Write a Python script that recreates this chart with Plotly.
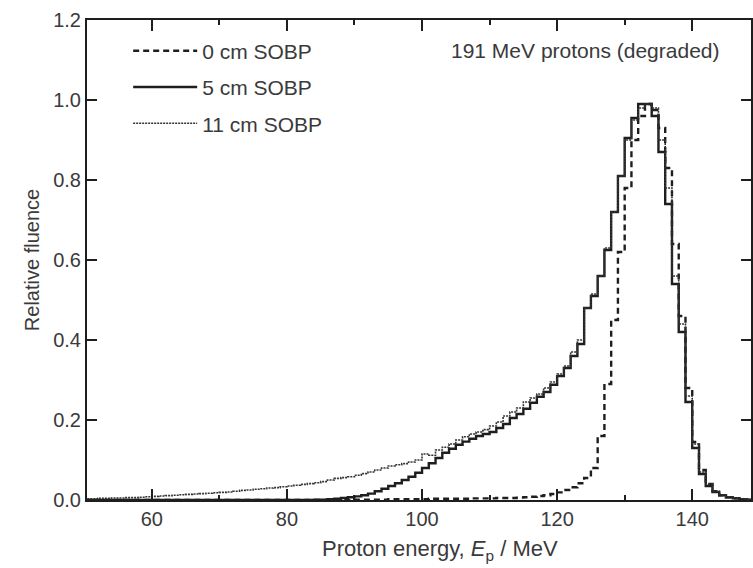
import plotly.graph_objects as go

# bin left edges (MeV), 1 MeV bins
energy = list(range(50, 149))

# 0 cm SOBP (dashed)
sobp0 = [
    0.000, 0.000, 0.000, 0.000, 0.000, 0.000, 0.000, 0.000, 0.000, 0.000,   # 50-59
    0.000, 0.000, 0.000, 0.000, 0.000, 0.000, 0.000, 0.000, 0.000, 0.000,   # 60-69
    0.000, 0.000, 0.000, 0.000, 0.000, 0.000, 0.000, 0.000, 0.000, 0.000,   # 70-79
    0.000, 0.000, 0.000, 0.000, 0.000, 0.000, 0.000, 0.000, 0.000, 0.000,   # 80-89
    0.001, 0.001, 0.001, 0.001, 0.001, 0.002, 0.002, 0.002, 0.002, 0.002,   # 90-99
    0.002, 0.003, 0.003, 0.003, 0.003, 0.003, 0.003, 0.004, 0.004, 0.004,   # 100-109
    0.004, 0.005, 0.005, 0.005, 0.006, 0.007, 0.008, 0.010, 0.012, 0.015,   # 110-119
    0.019, 0.025, 0.032, 0.042, 0.055, 0.080, 0.160, 0.290, 0.450, 0.620,   # 120-129
    0.780, 0.900, 0.960, 0.990, 0.975, 0.930, 0.830, 0.640, 0.460, 0.280,   # 130-139
    0.145, 0.075, 0.040, 0.022, 0.012, 0.007, 0.004, 0.002, 0.001,          # 140-148
]

# 5 cm SOBP (solid)
sobp5 = [
    0.000, 0.000, 0.000, 0.000, 0.000, 0.000, 0.000, 0.000, 0.000, 0.000,   # 50-59
    0.000, 0.000, 0.000, 0.000, 0.000, 0.000, 0.000, 0.000, 0.000, 0.000,   # 60-69
    0.000, 0.000, 0.000, 0.000, 0.000, 0.000, 0.000, 0.000, 0.000, 0.000,   # 70-79
    0.000, 0.000, 0.000, 0.000, 0.001, 0.001, 0.002, 0.003, 0.005, 0.007,   # 80-89
    0.009, 0.012, 0.016, 0.022, 0.028, 0.035, 0.042, 0.050, 0.058, 0.068,   # 90-99
    0.080, 0.092, 0.105, 0.118, 0.128, 0.138, 0.146, 0.153, 0.160, 0.165,   # 100-109
    0.170, 0.180, 0.190, 0.205, 0.215, 0.228, 0.243, 0.258, 0.270, 0.288,   # 110-119
    0.310, 0.330, 0.360, 0.390, 0.480, 0.510, 0.560, 0.625, 0.720, 0.810,   # 120-129
    0.905, 0.955, 0.990, 0.990, 0.960, 0.870, 0.740, 0.540, 0.420, 0.245,   # 130-139
    0.130, 0.065, 0.035, 0.020, 0.012, 0.007, 0.004, 0.002, 0.001,          # 140-148
]

# 11 cm SOBP (dotted)
sobp11 = [
    0.003, 0.003, 0.004, 0.004, 0.005, 0.005, 0.006, 0.006, 0.007, 0.008,   # 50-59
    0.009, 0.010, 0.011, 0.012, 0.013, 0.014, 0.015, 0.016, 0.017, 0.018,   # 60-69
    0.019, 0.020, 0.022, 0.024, 0.025, 0.027, 0.028, 0.030, 0.031, 0.033,   # 70-79
    0.035, 0.037, 0.039, 0.041, 0.043, 0.046, 0.050, 0.054, 0.056, 0.058,   # 80-89
    0.062, 0.066, 0.070, 0.075, 0.080, 0.085, 0.088, 0.091, 0.095, 0.100,   # 90-99
    0.115, 0.112, 0.125, 0.132, 0.140, 0.150, 0.158, 0.165, 0.170, 0.176,   # 100-109
    0.185, 0.195, 0.210, 0.220, 0.230, 0.245, 0.255, 0.265, 0.280, 0.295,   # 110-119
    0.315, 0.335, 0.370, 0.400, 0.480, 0.515, 0.560, 0.630, 0.720, 0.810,   # 120-129
    0.900, 0.950, 0.980, 0.990, 0.980, 0.900, 0.780, 0.560, 0.440, 0.260,   # 130-139
    0.140, 0.070, 0.040, 0.022, 0.013, 0.008, 0.005, 0.003, 0.002,          # 140-148
]

series_names = ["0 cm SOBP", "5 cm SOBP", "11 cm SOBP"]
x_ticks = [60, 80, 100, 120, 140]
y_ticks = [0.0, 0.2, 0.4, 0.6, 0.8, 1.0, 1.2]

ink = "#1e1e1e"
txt = "#3a3a3a"
font_family = "Arial, Liberation Sans, Helvetica, sans-serif"
fs = 20


def step_xy(vals):
    xs = energy + [energy[-1] + 1]
    ys = list(vals) + [vals[-1]]
    return xs, ys


styles = [
    dict(color=ink, width=2.4, dash="6px,4px"),
    dict(color=ink, width=2.4, dash="solid"),
    dict(color="#333333", width=1.6, dash="2px,1px"),
]

fig = go.Figure()
for name, vals, st in zip(series_names, [sobp0, sobp5, sobp11], styles):
    xs, ys = step_xy(vals)
    fig.add_trace(go.Scatter(
        x=xs, y=ys, mode="lines", name=name, legendgroup=name,
        line=dict(shape="hv", **st),
    ))

fig.add_annotation(
    text="191 MeV protons (degraded)", xref="paper", yref="paper",
    x=0.75, y=0.937, xanchor="center", yanchor="middle", showarrow=False,
    font=dict(size=21, color=txt, family=font_family),
)
fig.add_annotation(
    text="Proton energy, <i>E</i><sub>p</sub> / MeV", xref="paper", yref="paper",
    x=0.532, y=-0.104, xanchor="center", yanchor="middle", showarrow=False,
    font=dict(size=22, color=txt, family=font_family),
)

axis_common = dict(
    showline=True, linecolor=ink, linewidth=2, mirror="ticks",
    ticks="inside", tickcolor=ink, tickwidth=2, showgrid=False, zeroline=False,
    tickfont=dict(size=fs, color=txt, family=font_family),
)

fig.update_xaxes(
    range=[50.4, 148.7], tickvals=x_ticks, ticklen=11,
    minor=dict(dtick=10, tick0=50, ticks="inside", ticklen=5, tickwidth=1.5, tickcolor=ink),
    **axis_common,
)
fig.update_yaxes(
    range=[0, 1.2], tickvals=y_ticks, tickformat=".1f", ticklen=10,
    title=dict(text="Relative fluence", font=dict(size=fs, color=txt, family=font_family),
               standoff=8),
    **axis_common,
)

fig.update_layout(
    width=753, height=568,
    margin=dict(l=87, r=0, t=20, b=68),
    paper_bgcolor="white", plot_bgcolor="white",
    showlegend=True,
    legend=dict(
        x=0.062, y=0.978, xanchor="left", yanchor="top",
        bgcolor="rgba(0,0,0,0)", borderwidth=0,
        font=dict(size=21, color=txt, family=font_family),
        tracegroupgap=6, itemwidth=64,
    ),
)

fig.write_html("out.html")
